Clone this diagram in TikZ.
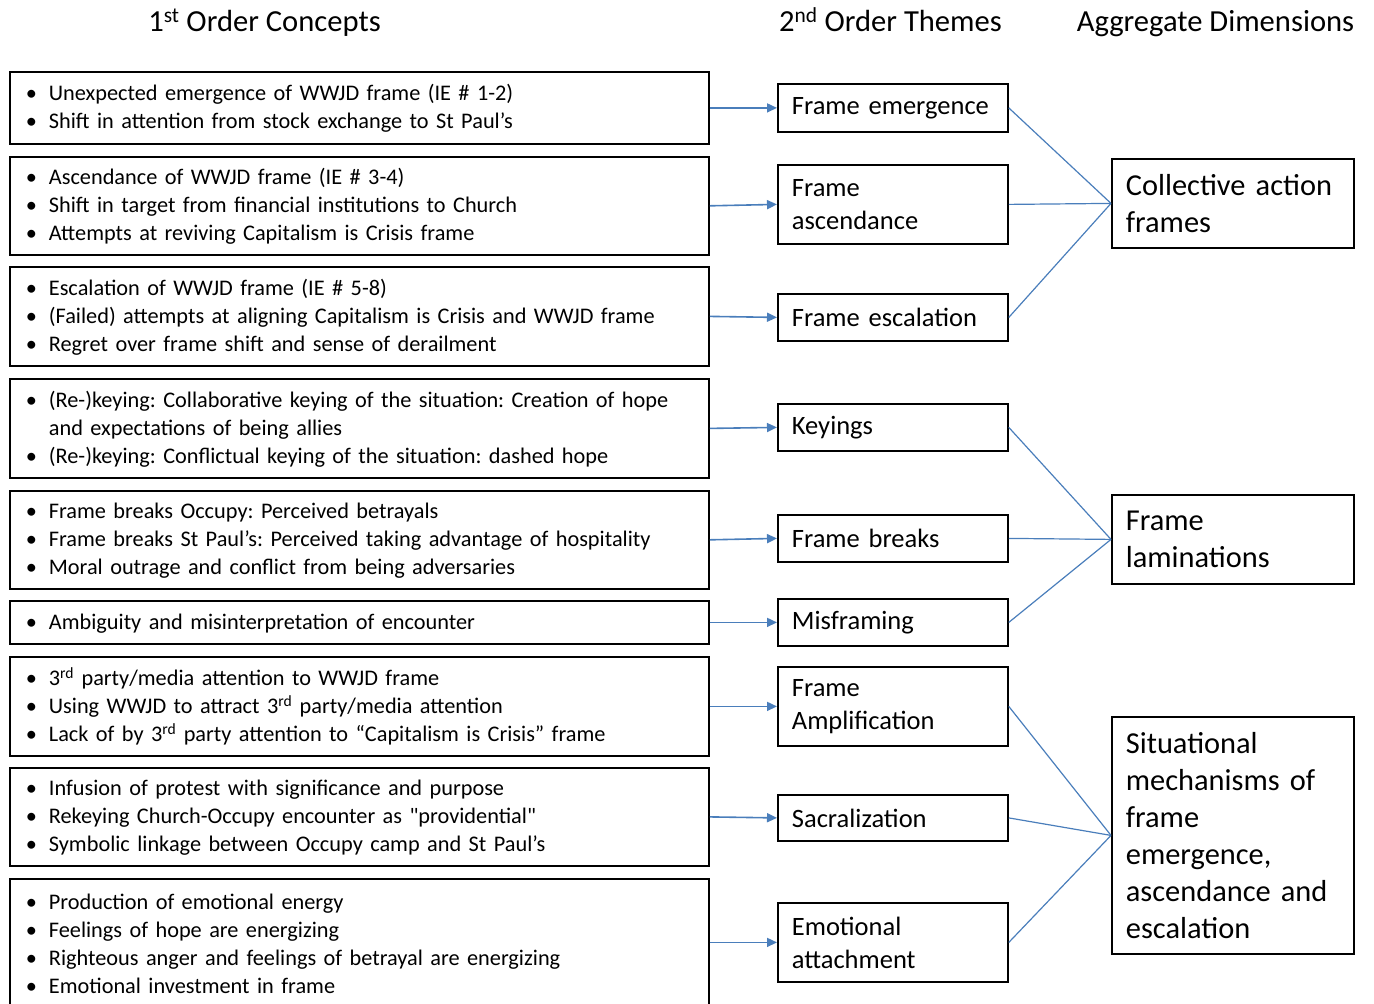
\documentclass[tikz,border=0pt]{standalone}
\usepackage{fontspec}
\setmainfont{Carlito}[Ligatures=TeXOff]
\usetikzlibrary{arrows.meta}
\definecolor{lnblue}{HTML}{4A7EBB}
\newcommand{\blist}[1]{\frenchspacing\leftskip=23pt\relax\rightskip=0pt plus 1fil\relax\parfillskip=0pt plus 1fil\relax#1\par\hrule height 10pt width 0pt\relax}
\newcommand{\bl}[1]{\par\noindent\llap{\makebox[23pt][l]{\textbullet}}#1}
\begin{document}
\begin{tikzpicture}[x=1pt,y=-1pt,
  lbox/.style={draw=black, line width=1.8pt, anchor=north west, minimum width=699pt,
    text width=667pt, inner xsep=16pt, inner ysep=0pt,
    font=\fontsize{22.3}{28}\selectfont},
  mbox/.style={draw=black, line width=1.8pt, anchor=north west, minimum width=230pt,
    text width=202pt, inner xsep=14pt, inner ysep=0pt, align=left,
    font=\fontsize{26.5}{33}\selectfont},
  rbox/.style={draw=black, line width=1.8pt, anchor=north west, minimum width=242pt,
    text width=214pt, inner xsep=14pt, inner ysep=0pt, align=left,
    font=\fontsize{30.4}{37}\selectfont},
  head/.style={anchor=base, font=\fontsize{30.6}{37}\selectfont, inner sep=0pt},
  arr/.style={draw=lnblue, line width=1.6pt, -{Triangle[length=10pt,width=9pt]}},
  conn/.style={draw=lnblue, line width=1.2pt}]
\useasboundingbox (0,0) rectangle (1374,1004);

\node[head] (h1) at (264.5,31.5) {1\textsuperscript{st} Order Concepts};
\node[head] (h2) at (890.5,31.5) {2\textsuperscript{nd} Order Themes};
\node[head] (h3) at (1215.5,31.5) {Aggregate Dimensions};

% left boxes
\node[lbox, minimum height=72pt] (l1) at (9,71) {\blist{\bl{Unexpected emergence of WWJD frame (IE \# 1-2)}\bl{Shift in attention from stock exchange to St Paul’s}}};
\node[lbox, minimum height=97pt] (l2) at (9,156) {\blist{\bl{Ascendance of WWJD frame (IE \# 3-4)}\bl{Shift in target from financial institutions to Church}\bl{Attempts at reviving Capitalism is Crisis frame}}};
\node[lbox, minimum height=99pt] (l3) at (9,266) {\blist{\bl{Escalation of WWJD frame (IE \# 5-8)}\bl{(Failed) attempts at aligning Capitalism is Crisis and WWJD frame}\bl{Regret over frame shift and sense of derailment}}};
\node[lbox, minimum height=99pt] (l4) at (9,378) {\blist{\bl{(Re-)keying: Collaborative keying of the situation: Creation of hope\newline and expectations of being allies}\bl{(Re-)keying: Conflictual keying of the situation: dashed hope}}};
\node[lbox, minimum height=97pt] (l5) at (9,490) {\blist{\bl{Frame breaks Occupy: Perceived betrayals}\bl{Frame breaks St Paul’s: Perceived taking advantage of hospitality}\bl{Moral outrage and conflict from being adversaries}}};
\node[lbox, minimum height=43pt] (l6) at (9,600) {\blist{\bl{Ambiguity and misinterpretation of encounter}}};
\node[lbox, minimum height=99pt] (l7) at (9,656) {\blist{\bl{3\textsuperscript{rd} party/media attention to WWJD frame}\bl{Using WWJD to attract 3\textsuperscript{rd} party/media attention}\bl{Lack of by 3\textsuperscript{rd} party attention to “Capitalism is Crisis” frame}}};
\node[lbox, minimum height=98pt] (l8) at (9,767) {\blist{\bl{Infusion of protest with significance and purpose}\bl{Rekeying Church-Occupy encounter as "providential"}\bl{Symbolic linkage between Occupy camp and St Paul’s}}};
\node[lbox, minimum height=127pt] (l9) at (9,878) {\blist{\bl{Production of emotional energy}\bl{Feelings of hope are energizing}\bl{Righteous anger and feelings of betrayal are energizing}\bl{Emotional investment in frame}}};

% middle boxes
\node[mbox, minimum height=48pt] (m1) at (777,83) {Frame emergence};
\node[mbox, minimum height=79pt] (m2) at (777,164) {Frame\\ascendance};
\node[mbox, minimum height=47pt] (m3) at (777,293) {Frame escalation};
\node[mbox, minimum height=47pt] (m4) at (777,403) {Keyings};
\node[mbox, minimum height=47pt] (m5) at (777,514) {Frame breaks};
\node[mbox, minimum height=47pt] (m6) at (777,598) {Misframing};
\node[mbox, minimum height=79pt] (m7) at (777,666) {Frame\\Amplification};
\node[mbox, minimum height=46pt] (m8) at (777,794) {Sacralization};
\node[mbox, minimum height=79pt] (m9) at (777,902) {Emotional\\attachment};

% right boxes
\node[rbox, minimum height=89pt] (r1) at (1111,158) {Collective action\\frames};
\node[rbox, minimum height=89pt] (r2) at (1111,494) {Frame\\laminations};
\node[rbox, minimum height=237pt] (r3) at (1111,716) {Situational\\mechanisms of\\frame\\emergence,\\ascendance and\\escalation};

% arrows
\foreach \i in {1,...,9} {\draw[arr] (l\i.east) -- (m\i.west);}

% connectors
\foreach \i in {1,2,3} {\draw[conn] (m\i.east) -- (r1.west);}
\foreach \i in {4,5,6} {\draw[conn] (m\i.east) -- (r2.west);}
\foreach \i in {7,8,9} {\draw[conn] (m\i.east) -- (r3.west);}
\end{tikzpicture}
\end{document}
